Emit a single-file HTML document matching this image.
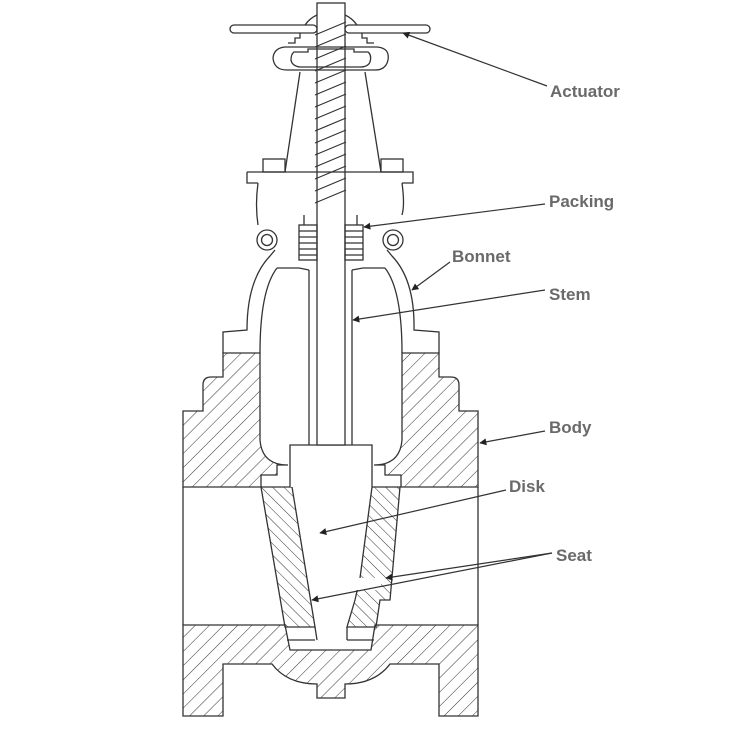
<!DOCTYPE html>
<html><head><style>
html,body{margin:0;padding:0;background:#fff;}
svg{display:block}
text{font-family:"Liberation Sans",sans-serif;font-weight:bold;font-size:17px;fill:#6a6a6a}
</style></head><body>
<svg width="736" height="729" viewBox="0 0 736 729" xmlns="http://www.w3.org/2000/svg">
<defs>
<pattern id="h1" patternUnits="userSpaceOnUse" width="10" height="10" patternTransform="rotate(45)">
<line x1="0" y1="0" x2="0" y2="10" stroke="#333" stroke-width="1"/></pattern>
<pattern id="h2" patternUnits="userSpaceOnUse" width="8" height="8" patternTransform="rotate(-45)">
<line x1="0" y1="0" x2="0" y2="8" stroke="#333" stroke-width="1"/></pattern>
<marker id="ar" viewBox="0 0 10 10" refX="9" refY="5" markerWidth="9" markerHeight="7" orient="auto" markerUnits="userSpaceOnUse">
<path d="M0,0 L10,5 L0,10 z" fill="#222"/></marker>
</defs>
<g fill="none" stroke="#333" stroke-width="1.3">
<path fill="url(#h1)" d="M223,353 L260,353 L260,440 Q262,465 288,465 L277,465 L277,475 L261,475 L261,487 L183,487 L183,411 L203,411 L203,385 Q203,377 211,377 L223,377 Z"/>
<path fill="url(#h1)" d="M439,353 L402,353 L402,440 Q400,465 374,465 L385,465 L385,475 L401,475 L401,487 L478,487 L478,411 L459,411 L459,385 Q459,377 451,377 L439,377 Z"/>
<line x1="183" y1="487" x2="183" y2="625"/>
<line x1="478" y1="487" x2="478" y2="625"/>
<path fill="url(#h1)" d="M183,625 L285,625 L290,650 L371,650 L375,625 L478,625 L478,716 L439,716 L439,664 L390,664 Q375,684 345,684 L345,698 L317,698 L317,684 Q287,684 272,664 L223,664 L223,716 L183,716 Z"/>
<path fill="url(#h2)" d="M261,487 L292,487 L315,627 L285,627 Z"/>
<path fill="url(#h2)" d="M372,487 L400,487 L390,600 L380,600 L376,627 L347,627 L355,600 L360,578 Z"/>
<rect x="351" y="578" width="30" height="12" fill="#fff" stroke="none"/>
<line x1="287" y1="640" x2="315" y2="640"/><line x1="347" y1="640" x2="374" y2="640"/>
<line x1="315" y1="627" x2="317" y2="640"/><line x1="347" y1="627" x2="347" y2="640"/>
<path fill="#fff" d="M290,487 L290,445 L372,445 L372,487"/>
<rect x="317" y="3" width="28" height="442" fill="#fff"/>
<line x1="309" y1="270" x2="309" y2="445"/><line x1="352" y1="270" x2="352" y2="445"/>
<g stroke-width="1.2">
<path d="M315,35 L346,22 M315,47 L346,34 M315,59 L346,46 M315,71 L346,58 M315,83 L346,70 M315,95 L346,82 M315,107 L346,94 M315,119 L346,106 M315,131 L346,118 M315,143 L346,130 M315,155 L346,142 M315,167 L346,154 M315,179 L346,166 M315,191 L346,178 M315,203 L346,190"/>
</g>
<rect x="230" y="25" width="87" height="8" rx="4" fill="#fff"/>
<rect x="345" y="25" width="85" height="8" rx="4" fill="#fff"/>
<path d="M305,25 Q310,18 317,15 M357,25 Q352,18 345,15"/>
<path d="M300,33 L300,38 L295,38 L295,43 L288,43 M362,33 L362,38 L367,38 L367,43 L374,43"/>
<path d="M285,47 L377,47 Q390,48 388,60 Q386,70 375,70 L287,70 Q274,70 273,58 Q274,48 285,47 Z"/>
<path d="M294,52 L308,52 L308,49 L354,49 L354,52 L368,52 Q372,55 370,62 Q368,67 360,67 L300,67 Q292,66 291,60 Q291,54 294,52 Z"/>
<line x1="300" y1="72" x2="285" y2="172"/><line x1="365" y1="72" x2="381" y2="172"/>
<rect x="263" y="159" width="22" height="13"/><rect x="381" y="159" width="22" height="13"/>
<path d="M247,172 L413,172 L413,183 L402,183 M247,172 L247,183 L258,183"/>
<path d="M258,183 Q255,205 258,225 M402,183 Q405,205 402,215"/>
<rect x="299" y="225" width="18" height="35"/><rect x="345" y="225" width="18" height="35"/>
<path d="M299,231 H317 M299,237 H317 M299,243 H317 M299,249 H317 M299,255 H317 M345,231 H363 M345,237 H363 M345,243 H363 M345,249 H363 M345,255 H363"/>
<line x1="304" y1="215" x2="304" y2="225"/><line x1="357" y1="215" x2="357" y2="225"/>
<circle cx="267" cy="240" r="10"/><circle cx="267" cy="240" r="5.5"/>
<circle cx="393" cy="240" r="10"/><circle cx="393" cy="240" r="5.5"/>
<path d="M275,250 L270,256 Q247,280 247,330 L223,332 L223,353"/>
<path d="M277,268 L299,268 L309,270"/>
<path d="M277,268 Q260,290 260,353"/>
<path d="M387,250 L392,256 Q415,280 414,330 L439,332 L439,353"/>
<path d="M385,268 L363,268 L352,270"/>
<path d="M385,268 Q402,290 402,353"/>
</g>
<g stroke="#333" stroke-width="1.2" fill="none" marker-end="url(#ar)">
<line x1="547" y1="86" x2="403" y2="33"/>
<line x1="545" y1="204" x2="364" y2="227"/>
<line x1="450" y1="262" x2="412" y2="290"/>
<line x1="545" y1="290" x2="353" y2="320"/>
<line x1="545" y1="431" x2="480" y2="443"/>
<line x1="506" y1="490" x2="320" y2="533"/>
<line x1="552" y1="553" x2="386" y2="578"/>
<line x1="552" y1="553" x2="312" y2="600"/>
</g>
<text x="550" y="97">Actuator</text>
<text x="549" y="207">Packing</text>
<text x="452" y="262">Bonnet</text>
<text x="549" y="300">Stem</text>
<text x="549" y="433">Body</text>
<text x="509" y="492">Disk</text>
<text x="556" y="561">Seat</text>
</svg>
</body></html>
